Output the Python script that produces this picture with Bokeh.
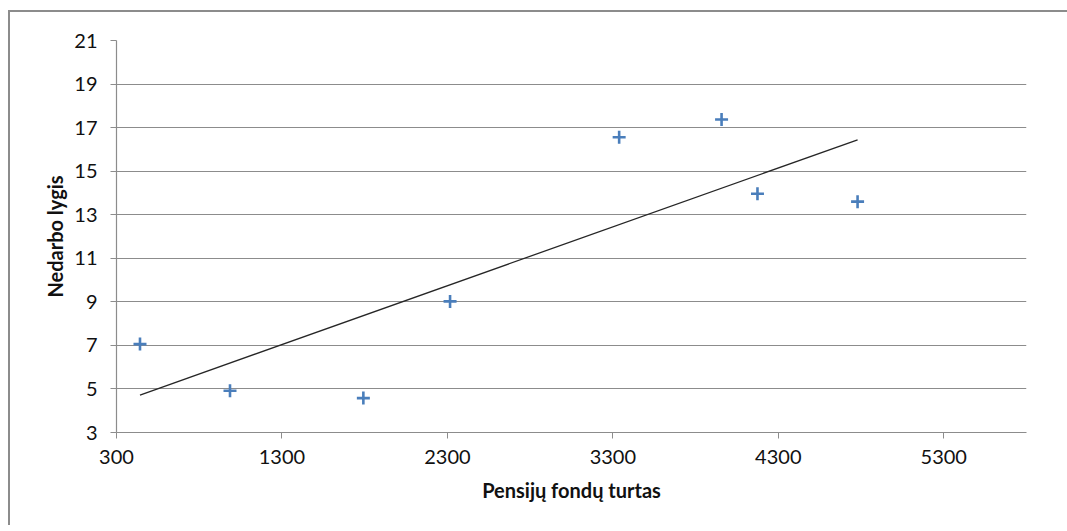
import numpy as np
from bokeh.plotting import figure
from bokeh.models import Range1d, FixedTicker
from bokeh.layouts import column
from bokeh.embed import file_html
from bokeh.resources import INLINE

# data
pension_assets = [442, 986, 1792, 2316, 3338, 3957, 4174, 4779]
unemployment = [7.06, 4.92, 4.58, 9.02, 16.56, 17.37, 13.96, 13.60]
x_ticks = [300, 1300, 2300, 3300, 4300, 5300]
y_ticks = [3, 5, 7, 9, 11, 13, 15, 17, 19, 21]

# linear trendline (least squares, as the original spreadsheet did)
slope, intercept = np.polyfit(pension_assets, unemployment, 1)
trend_x = [min(pension_assets), max(pension_assets)]
trend_y = [slope * v + intercept for v in trend_x]

FONT = "Lato"
GRID = "#8c8c8c"

p = figure(width=1064, height=515, output_backend="svg", toolbar_location=None,
           x_range=Range1d(300, 5800), y_range=Range1d(3, 21),
           min_border_left=106, min_border_right=48, min_border_top=28,
           min_border_bottom=95)
p.styles = {"border-left": "2px solid #8c8c8c", "border-top": "2px solid #8c8c8c"}
p.outline_line_color = None
p.background_fill_color = "white"
p.border_fill_color = "white"

p.line(trend_x, trend_y, line_color="#262626", line_width=1.3)
p.scatter(pension_assets, unemployment, marker="cross", size=13,
          line_color="#4A7EBB", line_width=2.6)

for ax in (p.xaxis[0], p.yaxis[0]):
    ax.axis_line_color = GRID
    ax.axis_line_width = 1.2
    ax.major_tick_line_color = GRID
    ax.major_tick_out = 6
    ax.major_tick_in = 0
    ax.minor_tick_line_color = None
    ax.major_label_text_font = FONT
    ax.major_label_text_font_size = "20px"
    ax.major_label_text_color = "#111111"
    ax.axis_label_text_font = FONT
    ax.axis_label_text_font_size = "20px"
    ax.axis_label_text_font_style = "bold"
    ax.axis_label_text_color = "#111111"

p.xaxis.ticker = FixedTicker(ticks=x_ticks)
p.yaxis.ticker = FixedTicker(ticks=y_ticks)
p.xaxis.axis_label = "Pensijų fondų turtas"
p.yaxis.axis_label = "Nedarbo lygis"
p.xaxis.major_label_standoff = 11
p.yaxis.major_label_standoff = 13
p.xaxis.axis_label_standoff = 11
p.yaxis.axis_label_standoff = 4

p.xgrid.grid_line_color = None
p.ygrid.grid_line_color = GRID
p.ygrid.grid_line_width = 1.2

layout = column(p, styles={"padding-left": "8px", "padding-top": "10px"})

open("out.html", "w").write(file_html(layout, INLINE))
